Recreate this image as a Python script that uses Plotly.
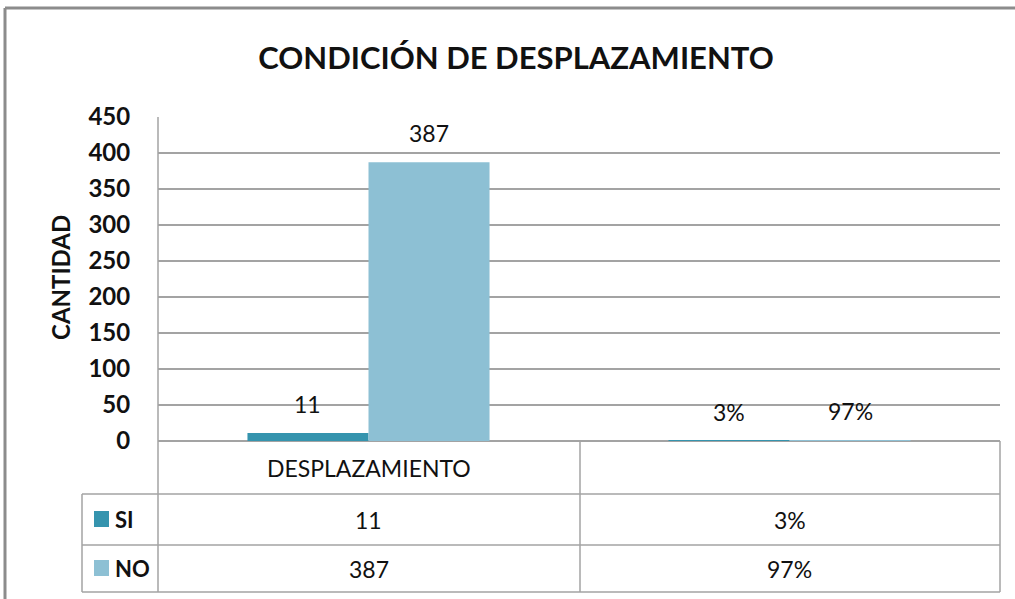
import plotly.graph_objects as go

# ---- data ----
categories = ["DESPLAZAMIENTO", " "]
series_names = ["SI", "NO"]
si_values = [11, 0.03]
no_values = [387, 0.97]
si_labels = ["11", "3%"]
no_labels = ["387", "97%"]
y_ticks = [0, 50, 100, 150, 200, 250, 300, 350, 400, 450]

title_text = "CONDICIÓN DE DESPLAZAMIENTO"
y_title = "CANTIDAD"

c_si = "#3594AE"
c_no = "#8DC0D4"
grid_c = "#A3A3A3"
line_c = "#A3A3A3"
border_c = "#8C8C8C"
FONT = "Lato"
TXT = "#111111"

fig = go.Figure()
fig.add_trace(go.Bar(name=series_names[0], x=categories, y=si_values,
                     marker=dict(color=c_si, line=dict(width=0))))
fig.add_trace(go.Bar(name=series_names[1], x=categories, y=no_values,
                     marker=dict(color=c_no, line=dict(width=0))))

W, H = 1015, 599
L, R, T, B = 158, 15, 117, 158
pw, ph = W - L - R, H - T - B
bargap = 0.425
cat_px = pw / len(categories)
bar_px = cat_px * (1 - bargap) / 2


def px(x):  # screen pixel -> paper
    return (x - L) / pw


def py(y):
    return (H - B - y) / ph


def txt(**kw):
    d = dict(showarrow=False, xanchor="center", yanchor="middle")
    d.update(kw)
    return d


annotations = []
# data labels above bars
for vals, labs, sh in [(si_values, si_labels, -bar_px / 2), (no_values, no_labels, bar_px / 2)]:
    for c, v, t in zip(categories, vals, labs):
        annotations.append(txt(x=c, y=v, xref="x", yref="y", text=t,
                               xshift=sh, yshift=29,
                               font=dict(family=FONT, size=23, color=TXT)))

# axis title
annotations.append(txt(x=px(60), y=py(278), xref="paper", yref="paper", text=y_title,
                       textangle=-90, font=dict(family=FONT, size=24, color=TXT, weight="bold")))

# table text
row_hdr, row_si, row_no = py(467.5), py(519.5), py(568.5)
for c in categories:
    annotations.append(txt(x=c, y=row_hdr, xref="x", yref="paper", text=c.strip(),
                           font=dict(family=FONT, size=23, color=TXT)))
for c, t in zip(categories, si_labels):
    annotations.append(txt(x=c, y=row_si, xref="x", yref="paper", text=t,
                           font=dict(family=FONT, size=23, color=TXT)))
for c, t in zip(categories, no_labels):
    annotations.append(txt(x=c, y=row_no, xref="x", yref="paper", text=t,
                           font=dict(family=FONT, size=23, color=TXT)))
# legend keys
for name, yy in [(series_names[0], row_si), (series_names[1], row_no)]:
    annotations.append(txt(x=px(113), y=yy, xref="paper", yref="paper", text=name,
                           xanchor="left",
                           font=dict(family=FONT, size=22, color=TXT, weight="bold")))

shapes = []


def hline(x0, x1, y, color=line_c, w=1.5):
    shapes.append(dict(type="line", xref="paper", yref="paper", x0=px(x0), x1=px(x1),
                       y0=py(y), y1=py(y), line=dict(color=color, width=w)))


def vline(x, y0, y1, color=line_c, w=1.5):
    shapes.append(dict(type="line", xref="paper", yref="paper", x0=px(x), x1=px(x),
                       y0=py(y0), y1=py(y1), line=dict(color=color, width=w)))


# table grid
hline(82, 1000, 494)
hline(82, 1000, 545)
hline(82, 1000, 592)
vline(158, 117, 592)
vline(82, 494, 592)
vline(580, 441, 592)
vline(1000, 441, 592)
# legend squares
shapes.append(dict(type="rect", xref="paper", yref="paper", x0=px(94), x1=px(109),
                   y0=py(527), y1=py(511), fillcolor=c_si, line=dict(width=0)))
shapes.append(dict(type="rect", xref="paper", yref="paper", x0=px(94), x1=px(109),
                   y0=py(576), y1=py(560), fillcolor=c_no, line=dict(width=0)))
# outer chart border
hline(5, 1015, 8, color=border_c, w=3)
vline(5, 8, 610, color=border_c, w=3)

fig.update_layout(
    width=W, height=H,
    margin=dict(l=L, r=R, t=T, b=B),
    paper_bgcolor="white", plot_bgcolor="white",
    barmode="group", bargap=bargap, bargroupgap=0,
    showlegend=False,
    title=dict(text=title_text, x=516 / W, xanchor="center",
               y=1 - 58 / H, yanchor="middle", yref="container",
               font=dict(family=FONT, size=31, color=TXT, weight="bold")),
    xaxis=dict(showticklabels=False, showgrid=False, zeroline=False, showline=False, ticks=""),
    yaxis=dict(range=[0, 450], tickvals=y_ticks, showgrid=True, gridcolor=grid_c, gridwidth=1.5,
               zeroline=True, zerolinecolor=grid_c, zerolinewidth=1.5, showline=False,
               ticks="outside", ticklen=22, tickcolor="rgba(0,0,0,0)",
               tickfont=dict(family=FONT, size=24, color=TXT, weight="bold")),
    annotations=annotations,
    shapes=shapes,
    font=dict(family=FONT),
)

fig.write_html("out.html", config={"displayModeBar": False},
               post_script="document.body.style.margin='0';document.body.style.overflow='hidden';")
